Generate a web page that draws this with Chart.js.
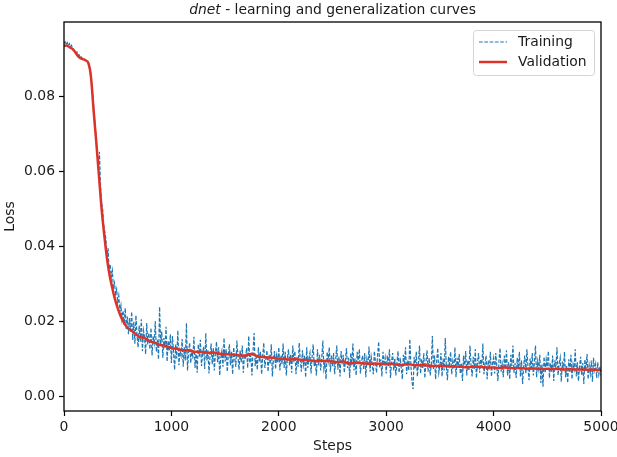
<!DOCTYPE html>
<html>
<head>
<meta charset="utf-8">
<script src="https://cdn.jsdelivr.net/npm/chart.js@4/dist/chart.umd.min.js"></script>
<style>
    html, body { margin: 0; padding: 0; background: #fff; }
</style>
</head>
<body>
<canvas id="myChart" width="617" height="457"></canvas>
<script>
// training loss, one value every 10 steps (0 .. 5000)
const trainStep = 10;
const trainLoss = [
    0.0942, 0.0946, 0.0938, 0.0944, 0.0936, 0.0941, 0.0933, 0.0937, 0.0929, 0.0925,
    0.0921, 0.0916, 0.0919, 0.0910, 0.0912, 0.0904, 0.0906, 0.0901, 0.0903, 0.0899,
    0.0897, 0.0894, 0.0892, 0.0888, 0.0880, 0.0858, 0.0830, 0.0795, 0.0760, 0.0720,
    0.0685, 0.0650, 0.0615, 0.0652, 0.0560, 0.0515, 0.0498, 0.0455, 0.0438, 0.0420,
    0.0370, 0.0395, 0.0340, 0.0352, 0.0318, 0.0335, 0.0290, 0.0302, 0.0272, 0.0285,
    0.0250, 0.0268, 0.0225, 0.0242, 0.0205, 0.0228, 0.0190, 0.0235, 0.0178, 0.0212,
    0.0165, 0.0208, 0.0172, 0.0225, 0.0150, 0.0198, 0.0140, 0.0215, 0.0162, 0.0130,
    0.0188, 0.0145, 0.0205, 0.0120, 0.0175, 0.0158, 0.0112, 0.0195, 0.0138, 0.0168,
    0.0125, 0.0182, 0.0108, 0.0160, 0.0142, 0.0200, 0.0118, 0.0150, 0.0098, 0.0238,
    0.0135, 0.0172, 0.0102, 0.0155, 0.0128, 0.0185, 0.0092, 0.0148, 0.0120, 0.0165,
    0.0088, 0.0160, 0.0115, 0.0070, 0.0138, 0.0100, 0.0175, 0.0082, 0.0122, 0.0108,
    0.0152, 0.0078, 0.0130, 0.0095, 0.0195, 0.0068, 0.0118, 0.0142, 0.0088, 0.0125,
    0.0100, 0.0158, 0.0075, 0.0120, 0.0062, 0.0138, 0.0105, 0.0150, 0.0080, 0.0112,
    0.0132, 0.0072, 0.0168, 0.0095, 0.0122, 0.0060, 0.0110, 0.0140, 0.0085, 0.0128,
    0.0068, 0.0115, 0.0145, 0.0090, 0.0130, 0.0055, 0.0102, 0.0120, 0.0078, 0.0155,
    0.0092, 0.0125, 0.0065, 0.0110, 0.0138, 0.0082, 0.0118, 0.0058, 0.0130, 0.0100,
    0.0078, 0.0148, 0.0105, 0.0070, 0.0122, 0.0090, 0.0135, 0.0062, 0.0112, 0.0098,
    0.0128, 0.0075, 0.0160, 0.0088, 0.0110, 0.0055, 0.0120, 0.0168, 0.0080, 0.0105,
    0.0070, 0.0130, 0.0092, 0.0118, 0.0058, 0.0108, 0.0142, 0.0075, 0.0100, 0.0122,
    0.0065, 0.0110, 0.0085, 0.0138, 0.0052, 0.0098, 0.0120, 0.0072, 0.0108, 0.0088,
    0.0130, 0.0068, 0.0108, 0.0085, 0.0140, 0.0075, 0.0118, 0.0055, 0.0102, 0.0125,
    0.0082, 0.0112, 0.0062, 0.0135, 0.0090, 0.0120, 0.0058, 0.0105, 0.0078, 0.0142,
    0.0095, 0.0065, 0.0122, 0.0085, 0.0108, 0.0050, 0.0130, 0.0075, 0.0100, 0.0115,
    0.0060, 0.0105, 0.0138, 0.0078, 0.0092, 0.0055, 0.0125, 0.0082, 0.0110, 0.0068,
    0.0102, 0.0148, 0.0072, 0.0088, 0.0045, 0.0118, 0.0095, 0.0130, 0.0065, 0.0108,
    0.0080, 0.0115, 0.0058, 0.0098, 0.0135, 0.0070, 0.0105, 0.0052, 0.0120, 0.0085,
    0.0110, 0.0062, 0.0095, 0.0128, 0.0075, 0.0102, 0.0048, 0.0115, 0.0082, 0.0140,
    0.0068, 0.0100, 0.0055, 0.0118, 0.0088, 0.0125, 0.0060, 0.0092, 0.0108, 0.0072,
    0.0115, 0.0050, 0.0098, 0.0080, 0.0132, 0.0065, 0.0105, 0.0085, 0.0058, 0.0120,
    0.0090, 0.0062, 0.0110, 0.0145, 0.0075, 0.0098, 0.0052, 0.0118, 0.0082, 0.0102,
    0.0060, 0.0108, 0.0078, 0.0125, 0.0048, 0.0092, 0.0115, 0.0068, 0.0100, 0.0055,
    0.0088, 0.0120, 0.0062, 0.0102, 0.0075, 0.0045, 0.0110, 0.0085, 0.0130, 0.0058,
    0.0095, 0.0068, 0.0152, 0.0080, 0.0040, 0.0018, 0.0105, 0.0072, 0.0118, 0.0052,
    0.0088, 0.0135, 0.0060, 0.0098, 0.0075, 0.0115, 0.0048, 0.0090, 0.0122, 0.0065,
    0.0102, 0.0055, 0.0085, 0.0160, 0.0070, 0.0108, 0.0045, 0.0095, 0.0128, 0.0062,
    0.0080, 0.0115, 0.0052, 0.0100, 0.0068, 0.0155, 0.0078, 0.0042, 0.0105, 0.0085,
    0.0118, 0.0058, 0.0092, 0.0072, 0.0130, 0.0050, 0.0102, 0.0080, 0.0112, 0.0060,
    0.0088, 0.0040, 0.0108, 0.0075, 0.0120, 0.0055, 0.0095, 0.0068, 0.0135, 0.0082,
    0.0052, 0.0105, 0.0072, 0.0125, 0.0048, 0.0090, 0.0115, 0.0062, 0.0098, 0.0078,
    0.0140, 0.0058, 0.0085, 0.0108, 0.0045, 0.0095, 0.0070, 0.0118, 0.0052, 0.0088,
    0.0102, 0.0060, 0.0115, 0.0078, 0.0040, 0.0095, 0.0128, 0.0065, 0.0085, 0.0050,
    0.0108, 0.0072, 0.0122, 0.0055, 0.0090, 0.0045, 0.0110, 0.0080, 0.0135, 0.0062,
    0.0088, 0.0048, 0.0102, 0.0075, 0.0118, 0.0052, 0.0095, 0.0032, 0.0082, 0.0108,
    0.0060, 0.0125, 0.0078, 0.0042, 0.0100, 0.0068, 0.0115, 0.0055, 0.0088, 0.0135,
    0.0050, 0.0092, 0.0072, 0.0110, 0.0035, 0.0085, 0.0025, 0.0105, 0.0062, 0.0098,
    0.0078, 0.0120, 0.0048, 0.0088, 0.0065, 0.0108, 0.0040, 0.0095, 0.0075, 0.0130,
    0.0055, 0.0085, 0.0102, 0.0038, 0.0092, 0.0068, 0.0118, 0.0050, 0.0080, 0.0035,
    0.0098, 0.0062, 0.0110, 0.0045, 0.0085, 0.0072, 0.0125, 0.0052, 0.0090, 0.0040,
    0.0078, 0.0105, 0.0055, 0.0088, 0.0032, 0.0098, 0.0068, 0.0112, 0.0045, 0.0082,
    0.0060, 0.0095, 0.0038, 0.0102, 0.0070, 0.0085, 0.0048, 0.0090, 0.0058, 0.0078,
    0.0055
];

const valSteps = [
    0, 25, 50, 75, 100, 125, 150, 175, 200, 225, 250, 275, 300, 325, 350, 375,
    400, 425, 450, 475, 500, 525, 550, 575, 600, 650, 700, 750, 800, 850, 900, 950,
    1000, 1050, 1100, 1150, 1200, 1250, 1300, 1350, 1400, 1450, 1500, 1550, 1600, 1650,
    1700, 1750, 1800, 1850, 1900, 1950, 2000, 2050, 2100, 2150, 2200, 2250, 2300, 2350,
    2400, 2450, 2500, 2550, 2600, 2650, 2700, 2750, 2800, 2850, 2900, 2950, 3000, 3050,
    3100, 3150, 3200, 3250, 3300, 3350, 3400, 3450, 3500, 3550, 3600, 3650, 3700, 3750,
    3800, 3850, 3900, 3950, 4000, 4050, 4100, 4150, 4200, 4250, 4300, 4350, 4400, 4450,
    4500, 4550, 4600, 4650, 4700, 4750, 4800, 4850, 4900, 4950, 5000
];
const valLoss = [
    0.0935, 0.0936, 0.0932, 0.0928, 0.0920, 0.0910, 0.0903, 0.0900, 0.0897, 0.0891,
    0.0855, 0.0765, 0.0680, 0.0590, 0.0500, 0.0430, 0.0368, 0.0322, 0.0288, 0.0258,
    0.0235, 0.0215, 0.0200, 0.0188, 0.0180, 0.0170, 0.0158, 0.0155, 0.0146, 0.0142,
    0.0136, 0.0134, 0.0128, 0.0126, 0.0122, 0.0123, 0.0119, 0.0118, 0.0117, 0.0115,
    0.0116, 0.0113, 0.0112, 0.0111, 0.0110, 0.0108, 0.0109, 0.0113, 0.0106, 0.0104,
    0.0103, 0.0102, 0.0100, 0.0099, 0.0097, 0.0099, 0.0097, 0.0096, 0.0095, 0.0093,
    0.0094, 0.0093, 0.0092, 0.0090, 0.0092, 0.0087, 0.0089, 0.0088, 0.0087, 0.0086,
    0.0087, 0.0086, 0.0085, 0.0086, 0.0084, 0.0083, 0.0085, 0.0083, 0.0082, 0.0082,
    0.0081, 0.0080, 0.0081, 0.0080, 0.0079, 0.0079, 0.0078, 0.0077, 0.0078, 0.0078,
    0.0077, 0.0076, 0.0076, 0.0075, 0.0076, 0.0075, 0.0074, 0.0075, 0.0073, 0.0074,
    0.0073, 0.0072, 0.0073, 0.0072, 0.0072, 0.0071, 0.0072, 0.0071, 0.0071, 0.0070,
    0.0071, 0.0070, 0.0069
];

const xTicks = [0, 1000, 2000, 3000, 4000, 5000];
const yTicks = [0, 0.02, 0.04, 0.06, 0.08];
const seriesNames = ['Training', 'Validation'];
const titleItalic = 'dnet';
const titleRest = ' - learning and generalization curves';

const FONT = '"DejaVu Sans", sans-serif';
const FS = 13.9;
const blue = '#1f77b4';
const red = '#dc3328';

// frame, title, axis labels and legend box, drawn matplotlib style
const decoPlugin = {
    id: 'deco',
    afterDraw(chart) {
        const ctx = chart.ctx;
        const a = chart.chartArea;
        ctx.save();
        ctx.strokeStyle = '#000';
        ctx.lineWidth = 1.3;
        ctx.strokeRect(a.left, a.top, a.right - a.left, a.bottom - a.top);

        ctx.fillStyle = '#1a1a1a';
        ctx.textBaseline = 'middle';
        ctx.textAlign = 'left';
        ctx.font = 'italic ' + FS + 'px ' + FONT;
        const w1 = ctx.measureText(titleItalic).width;
        ctx.font = FS + 'px ' + FONT;
        const w2 = ctx.measureText(titleRest).width;
        const tx = (a.left + a.right) / 2 - (w1 + w2) / 2;
        ctx.font = 'italic ' + FS + 'px ' + FONT;
        ctx.fillText(titleItalic, tx, 10);
        ctx.font = FS + 'px ' + FONT;
        ctx.fillText(titleRest, tx + w1, 10);

        ctx.textAlign = 'center';
        ctx.fillText('Steps', (a.left + a.right) / 2, 446);
        ctx.save();
        ctx.translate(10, (a.top + a.bottom) / 2);
        ctx.rotate(-Math.PI / 2);
        ctx.fillText('Loss', 0, 0);
        ctx.restore();

        // legend
        const lx = 473.5, ly = 30.5, lw = 121, lh = 45, r = 3;
        ctx.beginPath();
        ctx.moveTo(lx + r, ly);
        ctx.arcTo(lx + lw, ly, lx + lw, ly + lh, r);
        ctx.arcTo(lx + lw, ly + lh, lx, ly + lh, r);
        ctx.arcTo(lx, ly + lh, lx, ly, r);
        ctx.arcTo(lx, ly, lx + lw, ly, r);
        ctx.closePath();
        ctx.fillStyle = 'rgba(255,255,255,0.8)';
        ctx.fill();
        ctx.strokeStyle = '#d4d4d4';
        ctx.lineWidth = 1;
        ctx.stroke();

        ctx.lineWidth = 1;
        ctx.strokeStyle = blue;
        ctx.setLineDash([3.7, 1.6]);
        ctx.beginPath();
        ctx.moveTo(479, 42);
        ctx.lineTo(507, 42);
        ctx.stroke();
        ctx.setLineDash([]);
        ctx.lineWidth = 2.5;
        ctx.strokeStyle = red;
        ctx.beginPath();
        ctx.moveTo(479, 62);
        ctx.lineTo(507, 62);
        ctx.stroke();

        ctx.fillStyle = '#1a1a1a';
        ctx.textAlign = 'left';
        ctx.font = FS + 'px ' + FONT;
        ctx.fillText(seriesNames[0], 518, 42);
        ctx.fillText(seriesNames[1], 518, 62);
        ctx.restore();
    }
};

const config = {
    type: 'line',
    data: {
        datasets: [{
            label: seriesNames[0],
            data: trainLoss.map((v, i) => ({ x: i * trainStep, y: v })),
            borderColor: blue,
            borderWidth: 1.2,
            borderDash: [3.7, 1.6],
            pointRadius: 0,
            tension: 0,
            order: 2
        }, {
            label: seriesNames[1],
            data: valLoss.map((v, i) => ({ x: valSteps[i], y: v })),
            borderColor: red,
            borderWidth: 2.5,
            pointRadius: 0,
            tension: 0.3,
            order: 1
        }]
    },
    options: {
        responsive: false,
        animation: false,
        layout: { padding: { top: 22, right: 16, left: 0, bottom: 0 } },
        plugins: {
            legend: { display: false },
            title: { display: false },
            tooltip: { enabled: false }
        },
        scales: {
            x: {
                type: 'linear',
                min: 0,
                max: 5000,
                afterBuildTicks: s => { s.ticks = xTicks.map(v => ({ value: v })); },
                afterFit: s => { s.height = 46; s.paddingLeft = 0; s.paddingRight = 0; },
                border: { display: false },
                grid: { drawOnChartArea: false, tickLength: 5, tickColor: '#000', tickWidth: 1.2 },
                ticks: {
                    color: '#1a1a1a',
                    padding: 3,
                    maxRotation: 0,
                    font: { family: FONT, size: FS },
                    callback: v => String(v)
                }
            },
            y: {
                type: 'linear',
                min: -0.004,
                max: 0.0999,
                afterBuildTicks: s => { s.ticks = yTicks.map(v => ({ value: v })); },
                afterFit: s => { s.width = 64; s.paddingTop = 0; s.paddingBottom = 0; },
                border: { display: false },
                grid: { drawOnChartArea: false, tickLength: 5, tickColor: '#000', tickWidth: 1.2 },
                ticks: {
                    color: '#1a1a1a',
                    padding: 4,
                    font: { family: FONT, size: FS },
                    callback: v => v.toFixed(2)
                }
            }
        }
    },
    plugins: [decoPlugin]
};

new Chart(document.getElementById('myChart'), config);
</script>
</body>
</html>
